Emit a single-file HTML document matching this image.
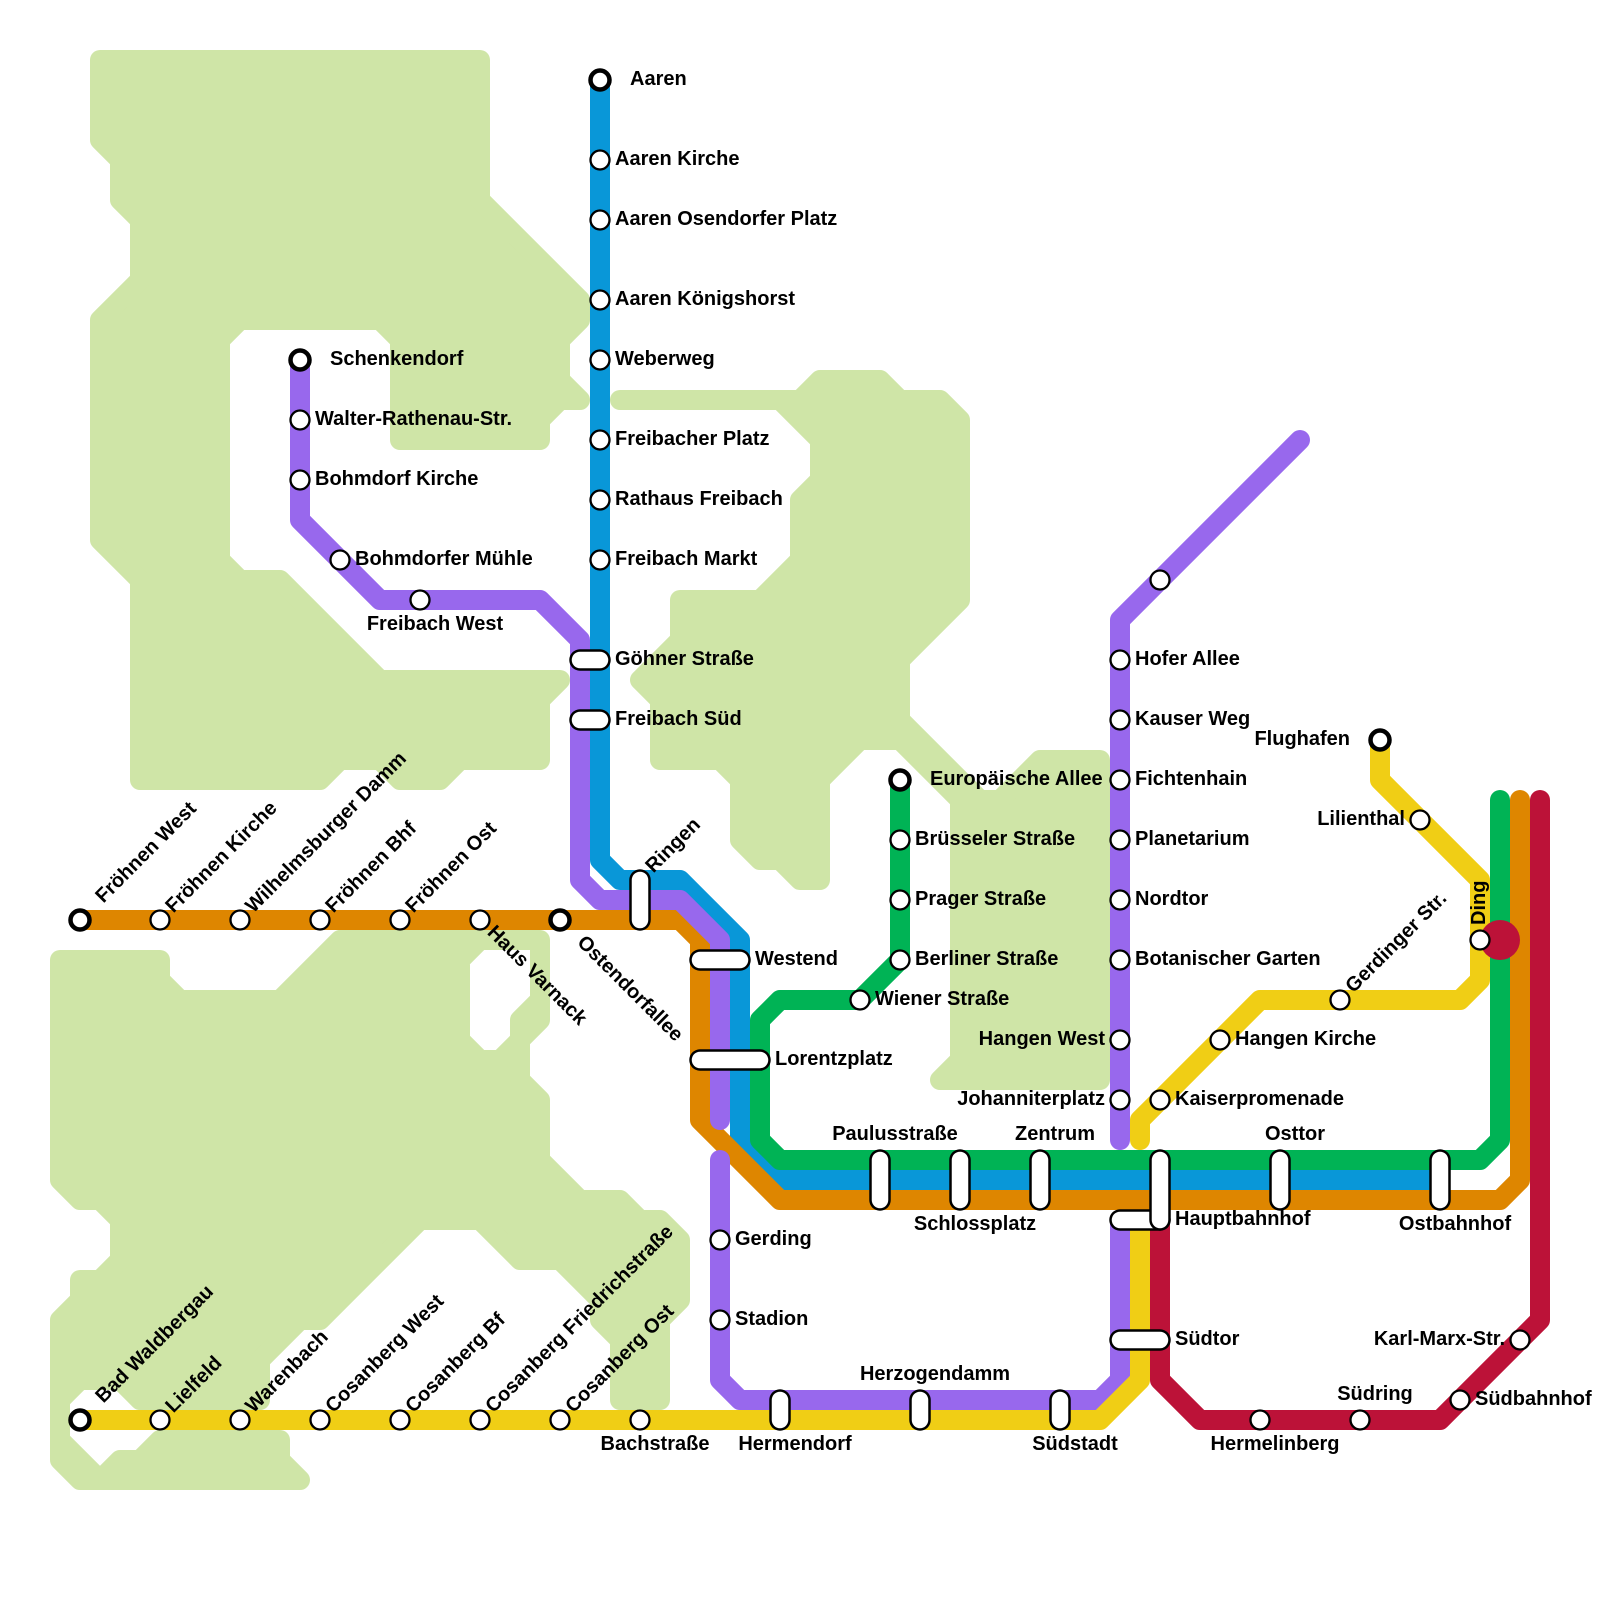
<!DOCTYPE html>
<html><head><meta charset="utf-8"><title>Metro map</title>
<style>
html,body{margin:0;padding:0;background:#fff}
svg{display:block}
text{font-family:"Liberation Sans",sans-serif;font-weight:bold;font-size:20px;fill:#000}
.l{fill:none;stroke-width:20;stroke-linejoin:round;stroke-linecap:round}
.p1{stroke:#000;stroke-width:21.5;stroke-linecap:round;fill:none}
.p2{stroke:#fff;stroke-width:16.5;stroke-linecap:round;fill:none}
.s{fill:#fff;stroke:#000;stroke-width:2.3}
.t{fill:#fff;stroke:#000;stroke-width:4.5}
.m{text-anchor:middle}
.e{text-anchor:end}
</style></head><body>
<svg width="1600" height="1600" viewBox="0 0 1600 1600" xmlns="http://www.w3.org/2000/svg">
<g fill="#cfe5a7" stroke="#cfe5a7" stroke-width="20" stroke-linejoin="round" fill-rule="evenodd">
<path d="M100 60L480 60L480 200L580 300L580 320L560 340L560 380L580 400L560 400L540 420L540 440L400 440L400 340L380 320L240 320L220 340L220 560L240 580L280 580L380 680L560 680L540 700L540 760L460 760L440 780L400 780L380 760L340 760L320 780L140 780L140 580L100 540L100 320L140 280L140 220L120 200L120 160L100 140Z"/>
<path d="M60 960L160 960L160 980L180 1000L280 1000L340 940L540 940L540 1020L520 1040L520 1080L540 1100L540 1160L580 1200L620 1200L640 1220L660 1220L680 1240L680 1300L660 1320L660 1400L620 1400L620 1340L600 1320L600 1300L560 1260L520 1260L480 1220L420 1220L320 1320L300 1320L260 1360L260 1400L140 1400L120 1380L80 1380L60 1400L60 1440L100 1480L120 1460L140 1460L160 1440L280 1440L280 1460L300 1480L80 1480L60 1460L60 1320L80 1300L80 1280L100 1280L120 1260L120 1220L100 1200L80 1200L60 1180Z M480 940L540 940L540 1000L520 1020L520 1040L500 1060L480 1060L460 1040L460 960Z"/>
<path d="M620 400L800 400L820 380L880 380L900 400L940 400L960 420L960 600L900 660L900 720L960 780L980 800L1000 800L1040 760L1100 760L1100 1080L940 1080L960 1060L960 800L900 740L860 740L820 780L820 880L800 880L780 860L760 860L740 840L740 780L720 760L660 760L660 700L640 680L680 640L680 600L760 600L800 560L800 500L820 480L820 440L780 400Z"/>
</g>

<!-- lines -->
<polyline class="l" stroke="#0997d8" points="600,80 600,860 620,880 680,880 740,940 740,1140 780,1180 1440,1180"/>
<polyline class="l" stroke="#00b355" points="900,780 900,960 860,1000 780,1000 760,1020 760,1140 780,1160 1480,1160 1500,1140 1500,800"/>
<polyline class="l" stroke="#de8600" points="80,920 680,920 700,940 700,1120 780,1200 1500,1200 1520,1180 1520,800"/>
<polyline class="l" stroke="#9868ed" points="300,360 300,520 380,600 540,600 580,640 580,880 600,900 680,900 720,940 720,1120"/>
<polyline class="l" stroke="#9868ed" points="720,1160 720,1380 740,1400 1100,1400 1120,1380 1120,1220"/>
<polyline class="l" stroke="#9868ed" points="1300,440 1120,620 1120,1140"/>
<polyline class="l" stroke="#f0ce15" points="80,1420 1100,1420 1140,1380 1140,1220"/>
<polyline class="l" stroke="#f0ce15" points="1380,740 1380,780 1480,880 1480,980 1460,1000 1260,1000 1140,1120 1140,1140"/>
<polyline class="l" stroke="#bc1238" points="1160,1220 1160,1380 1200,1420 1440,1420 1540,1320 1540,800"/>
<circle cx="1500" cy="940" r="20" fill="#bc1238"/>

<!-- stations: circles -->
<g class="st">
<circle class="t" cx="80" cy="920" r="9.5"/><circle class="s" cx="160" cy="920" r="9.5"/><circle class="s" cx="240" cy="920" r="9.5"/><circle class="s" cx="320" cy="920" r="9.5"/><circle class="s" cx="400" cy="920" r="9.5"/><circle class="s" cx="480" cy="920" r="9.5"/><circle class="t" cx="560" cy="920" r="9.5"/>
<circle class="t" cx="80" cy="1420" r="9.5"/><circle class="s" cx="160" cy="1420" r="9.5"/><circle class="s" cx="240" cy="1420" r="9.5"/><circle class="s" cx="320" cy="1420" r="9.5"/><circle class="s" cx="400" cy="1420" r="9.5"/><circle class="s" cx="480" cy="1420" r="9.5"/><circle class="s" cx="560" cy="1420" r="9.5"/><circle class="s" cx="640" cy="1420" r="9.5"/>
<circle class="t" cx="600" cy="80" r="9.5"/><circle class="s" cx="600" cy="160" r="9.5"/><circle class="s" cx="600" cy="220" r="9.5"/><circle class="s" cx="600" cy="300" r="9.5"/><circle class="s" cx="600" cy="360" r="9.5"/><circle class="s" cx="600" cy="440" r="9.5"/><circle class="s" cx="600" cy="500" r="9.5"/><circle class="s" cx="600" cy="560" r="9.5"/>
<circle class="t" cx="300" cy="360" r="9.5"/><circle class="s" cx="300" cy="420" r="9.5"/><circle class="s" cx="300" cy="480" r="9.5"/><circle class="s" cx="340" cy="560" r="9.5"/><circle class="s" cx="420" cy="600" r="9.5"/>
<circle class="t" cx="900" cy="780" r="9.5"/><circle class="s" cx="900" cy="840" r="9.5"/><circle class="s" cx="900" cy="900" r="9.5"/><circle class="s" cx="900" cy="960" r="9.5"/><circle class="s" cx="860" cy="1000" r="9.5"/>
<circle class="s" cx="1160" cy="580" r="9.5"/><circle class="s" cx="1120" cy="660" r="9.5"/><circle class="s" cx="1120" cy="720" r="9.5"/><circle class="s" cx="1120" cy="780" r="9.5"/><circle class="s" cx="1120" cy="840" r="9.5"/><circle class="s" cx="1120" cy="900" r="9.5"/><circle class="s" cx="1120" cy="960" r="9.5"/><circle class="s" cx="1120" cy="1040" r="9.5"/><circle class="s" cx="1120" cy="1100" r="9.5"/>
<circle class="s" cx="720" cy="1240" r="9.5"/><circle class="s" cx="720" cy="1320" r="9.5"/>
<circle class="t" cx="1380" cy="740" r="9.5"/><circle class="s" cx="1420" cy="820" r="9.5"/><circle class="s" cx="1480" cy="940" r="9.5"/><circle class="s" cx="1340" cy="1000" r="9.5"/><circle class="s" cx="1220" cy="1040" r="9.5"/><circle class="s" cx="1160" cy="1100" r="9.5"/>
<circle class="s" cx="1260" cy="1420" r="9.5"/><circle class="s" cx="1360" cy="1420" r="9.5"/><circle class="s" cx="1460" cy="1400" r="9.5"/><circle class="s" cx="1520" cy="1340" r="9.5"/>
</g>

<!-- interchange pills -->
<path class="p1" d="M580 660H600"/><path class="p2" d="M580 660H600"/>
<path class="p1" d="M580 720H600"/><path class="p2" d="M580 720H600"/>
<path class="p1" d="M640 880V920"/><path class="p2" d="M640 880V920"/>
<path class="p1" d="M700 960H740"/><path class="p2" d="M700 960H740"/>
<path class="p1" d="M700 1060H760"/><path class="p2" d="M700 1060H760"/>
<path class="p1" d="M880 1160V1200"/><path class="p2" d="M880 1160V1200"/>
<path class="p1" d="M960 1160V1200"/><path class="p2" d="M960 1160V1200"/>
<path class="p1" d="M1040 1160V1200"/><path class="p2" d="M1040 1160V1200"/>
<path class="p1" d="M1280 1160V1200"/><path class="p2" d="M1280 1160V1200"/>
<path class="p1" d="M1440 1160V1200"/><path class="p2" d="M1440 1160V1200"/>
<path class="p1" d="M1120 1220H1160"/><path class="p2" d="M1120 1220H1160"/>
<path class="p1" d="M1160 1160V1220"/><path class="p2" d="M1160 1160V1220"/>
<path class="p1" d="M1120 1340H1160"/><path class="p2" d="M1120 1340H1160"/>
<path class="p1" d="M780 1400V1420"/><path class="p2" d="M780 1400V1420"/>
<path class="p1" d="M920 1400V1420"/><path class="p2" d="M920 1400V1420"/>
<path class="p1" d="M1060 1400V1420"/><path class="p2" d="M1060 1400V1420"/>

<!-- labels: right -->
<text x="630" y="85">Aaren</text>
<text x="615" y="165">Aaren Kirche</text>
<text x="615" y="225">Aaren Osendorfer Platz</text>
<text x="615" y="305">Aaren Königshorst</text>
<text x="615" y="365">Weberweg</text>
<text x="615" y="445">Freibacher Platz</text>
<text x="615" y="505">Rathaus Freibach</text>
<text x="615" y="565">Freibach Markt</text>
<text x="615" y="665">Göhner Straße</text>
<text x="615" y="725">Freibach Süd</text>
<text x="755" y="965">Westend</text>
<text x="775" y="1065">Lorentzplatz</text>
<text x="330" y="365">Schenkendorf</text>
<text x="315" y="425">Walter-Rathenau-Str.</text>
<text x="315" y="485">Bohmdorf Kirche</text>
<text x="355" y="565">Bohmdorfer Mühle</text>
<text x="930" y="785">Europäische Allee</text>
<text x="915" y="845">Brüsseler Straße</text>
<text x="915" y="905">Prager Straße</text>
<text x="915" y="965">Berliner Straße</text>
<text x="875" y="1005">Wiener Straße</text>
<text x="1135" y="665">Hofer Allee</text>
<text x="1135" y="725">Kauser Weg</text>
<text x="1135" y="785">Fichtenhain</text>
<text x="1135" y="845">Planetarium</text>
<text x="1135" y="905">Nordtor</text>
<text x="1135" y="965">Botanischer Garten</text>
<text x="1235" y="1045">Hangen Kirche</text>
<text x="1175" y="1105">Kaiserpromenade</text>
<text x="1175" y="1225">Hauptbahnhof</text>
<text x="1175" y="1345">Südtor</text>
<text x="735" y="1245">Gerding</text>
<text x="735" y="1325">Stadion</text>
<text x="1475" y="1405">Südbahnhof</text>
<!-- left -->
<text class="e" x="1105" y="1045">Hangen West</text>
<text class="e" x="1105" y="1105">Johanniterplatz</text>
<text class="e" x="1350" y="745">Flughafen</text>
<text class="e" x="1405" y="825">Lilienthal</text>
<text class="e" x="1505" y="1345">Karl-Marx-Str.</text>
<!-- above / below -->
<text class="m" x="895" y="1140">Paulusstraße</text>
<text class="m" x="1055" y="1140">Zentrum</text>
<text class="m" x="1295" y="1140">Osttor</text>
<text class="m" x="935" y="1380">Herzogendamm</text>
<text class="m" x="1375" y="1400">Südring</text>
<text class="m" x="975" y="1230">Schlossplatz</text>
<text class="m" x="1455" y="1230">Ostbahnhof</text>
<text class="m" x="435" y="630">Freibach West</text>
<text class="m" x="655" y="1450">Bachstraße</text>
<text class="m" x="795" y="1450">Hermendorf</text>
<text class="m" x="1075" y="1450">Südstadt</text>
<text class="m" x="1275" y="1450">Hermelinberg</text>
<!-- rotated -->
<text transform="translate(80 920) rotate(-45)" x="28" y="5">Fröhnen West</text>
<text transform="translate(160 920) rotate(-45)" x="14" y="5">Fröhnen Kirche</text>
<text transform="translate(240 920) rotate(-45)" x="14" y="5">Wilhelmsburger Damm</text>
<text transform="translate(320 920) rotate(-45)" x="14" y="5">Fröhnen Bhf</text>
<text transform="translate(400 920) rotate(-45)" x="14" y="5">Fröhnen Ost</text>
<text transform="translate(480 920) rotate(45)" x="14" y="5">Haus Varnack</text>
<text transform="translate(560 920) rotate(45)" x="28" y="5">Ostendorfallee</text>
<text transform="translate(640 880) rotate(-45)" x="14" y="5">Ringen</text>
<text transform="translate(80 1420) rotate(-45)" x="28" y="5">Bad Waldbergau</text>
<text transform="translate(160 1420) rotate(-45)" x="14" y="5">Lielfeld</text>
<text transform="translate(240 1420) rotate(-45)" x="14" y="5">Warenbach</text>
<text transform="translate(320 1420) rotate(-45)" x="14" y="5">Cosanberg West</text>
<text transform="translate(400 1420) rotate(-45)" x="14" y="5">Cosanberg Bf</text>
<text transform="translate(480 1420) rotate(-45)" x="14" y="5">Cosanberg Friedrichstraße</text>
<text transform="translate(560 1420) rotate(-45)" x="14" y="5">Cosanberg Ost</text>
<text transform="translate(1340 1000) rotate(-45)" x="14" y="5">Gerdinger Str.</text>
<text transform="translate(1480 940) rotate(-90)" x="15" y="5">Ding</text>
</svg>
</body></html>
